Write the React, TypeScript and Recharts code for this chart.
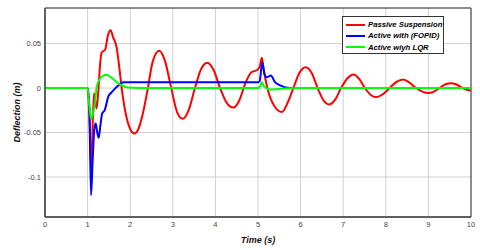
import {
  LineChart,
  Line,
  XAxis,
  YAxis,
  CartesianGrid,
  Legend,
  ReferenceArea,
} from 'recharts';

// time ticks and deflection ticks
const timeTicks = [0, 1, 2, 3, 4, 5, 6, 7, 8, 9, 10];
const deflTicks = [-0.1, -0.05, 0, 0.05];

// Passive suspension
const passiveT = [
  0, 1.0, 1.04, 1.09, 1.12, 1.15, 1.21, 1.25, 1.29, 1.33, 1.41, 1.48, 1.54, 1.6, 1.68, 1.74, 1.8,
  1.9, 2.0, 2.1, 2.2, 2.3, 2.4, 2.53, 2.68, 2.82, 2.95, 3.1, 3.23, 3.37, 3.52, 3.66, 3.81, 3.96,
  4.11, 4.27, 4.42, 4.56, 4.7, 4.85, 4.97, 5.04, 5.09, 5.13, 5.22, 5.38, 5.56, 5.7, 5.83, 5.97,
  6.12, 6.26, 6.4, 6.54, 6.67, 6.81, 6.95, 7.1, 7.24, 7.38, 7.51, 7.64, 7.77, 7.93, 8.09, 8.25,
  8.41, 8.56, 8.71, 8.86, 9.0, 9.13, 9.26, 9.39, 9.52, 9.66, 9.8, 10.0,
];
const passiveY = [
  0, 0, -0.03, -0.093, -0.04, -0.006, -0.023, -0.005, 0.025, 0.04, 0.043, 0.06, 0.065, 0.057,
  0.046, 0.025, 0.0, -0.03, -0.046, -0.051, -0.045, -0.028, -0.004, 0.03, 0.042, 0.03, 0.003,
  -0.027, -0.0345, -0.025, 0.0, 0.021, 0.0284, 0.02, 0.0, -0.017, -0.022, -0.014, 0.005, 0.018,
  0.02, 0.024, 0.034, 0.022, 0.0, -0.02, -0.027, -0.016, 0.0, 0.017, 0.0235, 0.017, 0.0, -0.014,
  -0.0184, -0.013, 0.0, 0.011, 0.0153, 0.01, 0.0, -0.0075, -0.0102, -0.007, 0.0, 0.007, 0.0097,
  0.006, 0.0, -0.004, -0.0057, -0.004, 0.0, 0.004, 0.0055, 0.004, 0.0, -0.003,
];

// Active with FOPID
const fopidT = [
  0, 1.0, 1.04, 1.08, 1.12, 1.16, 1.19, 1.22, 1.26, 1.3, 1.34, 1.4, 1.49, 1.56, 1.7, 1.85, 5.0,
  5.04, 5.1, 5.15, 5.2, 5.3, 5.4, 5.52, 5.75, 10.0,
];
const fopidY = [
  0, 0, -0.02, -0.1205, -0.08, -0.045, -0.04, -0.048, -0.056, -0.042, -0.029, -0.025, -0.009,
  -0.005, 0.002, 0.0065, 0.0065, 0.008, 0.029, 0.016, 0.012, 0.014, 0.0066, 0.003, 0.0, 0.0,
];

// Active with LQR
const lqrT = [
  0, 1.0, 1.04, 1.08, 1.13, 1.18, 1.21, 1.27, 1.35, 1.45, 1.55, 1.65, 1.8, 1.95, 2.2, 5.0, 5.05,
  5.09, 5.14, 5.28, 5.5, 5.9, 10.0,
];
const lqrY = [
  0, 0, -0.02, -0.0345, -0.028, -0.014, 0.0, 0.009, 0.0135, 0.0149, 0.012, 0.008, 0.003, 0.0005,
  0, 0, 0.002, 0.0066, 0.002, -0.0016, -0.001, 0, 0,
];

const toPoints = (ts: number[], ys: number[]) => ts.map((t, i) => ({ t, y: ys[i] }));

const series = [
  { name: 'Passive Suspension', color: '#ff0000', data: toPoints(passiveT, passiveY) },
  { name: 'Active with (FOPID)', color: '#0000ff', data: toPoints(fopidT, fopidY) },
  { name: 'Active wiyh LQR', color: '#00ff00', data: toPoints(lqrT, lqrY) },
];

const font = '"Liberation Sans", Arial, sans-serif';

const LegendBox = () => (
  <div
    style={{
      width: 100,
      height: 34,
      border: '1px solid #333',
      background: '#fff',
      fontFamily: font,
      fontSize: 7.7,
      fontWeight: 'bold',
      fontStyle: 'italic',
      color: '#000',
      boxSizing: 'content-box',
      paddingTop: 2,
    }}
  >
    {series.map((s) => (
      <div key={s.name} style={{ display: 'flex', alignItems: 'center', height: 11.3 }}>
        <div style={{ width: 19, height: 2, background: s.color, marginLeft: 3, marginRight: 3 }} />
        <span style={{ whiteSpace: 'nowrap' }}>{s.name}</span>
      </div>
    ))}
  </div>
);

export default function App() {
  return (
    <div style={{ position: 'absolute', left: 0, top: 0, background: '#fff' }}>
      <LineChart width={480} height={250} margin={{ top: 8, right: 9, bottom: 0, left: 0 }}>
        <CartesianGrid stroke="#d0d0d0" strokeWidth={1} ticks={timeTicks} />
        <XAxis
          type="number"
          dataKey="t"
          domain={[0, 10]}
          ticks={timeTicks}
          allowDataOverflow
          height={33}
          tickLine={false}
          tickSize={3}
          tickMargin={2}
          axisLine={{ stroke: '#333' }}
          tick={{ fontSize: 7.5, fill: '#444', fontFamily: font }}
          label={{
            value: 'Time (s)',
            position: 'center',
            dy: 6.5,
            style: { fontSize: 9, fontWeight: 'bold', fontStyle: 'italic', fill: '#111', fontFamily: font },
          }}
        />
        <YAxis
          type="number"
          domain={[-0.145, 0.09]}
          ticks={deflTicks}
          allowDataOverflow
          width={45}
          tickLine={false}
          tickSize={2}
          tickMargin={2}
          axisLine={{ stroke: '#333' }}
          tickFormatter={(v: number) => String(v)}
          tick={{ fontSize: 7.5, fill: '#444', fontFamily: font }}
          label={{
            value: 'Deflection (m)',
            angle: -90,
            position: 'center',
            dx: -6,
            style: { fontSize: 9, fontWeight: 'bold', fontStyle: 'italic', fill: '#111', fontFamily: font },
          }}
        />
        <ReferenceArea x1={0} x2={10} y1={-0.145} y2={0.09} fill="none" stroke="#333" strokeWidth={1} />
        {series.map((s) => (
          <Line
            key={s.name}
            data={s.data}
            dataKey="y"
            name={s.name}
            type="monotone"
            stroke={s.color}
            strokeWidth={2}
            dot={false}
            activeDot={false}
            isAnimationActive={false}
          />
        ))}
        <Legend
          layout="vertical"
          align="center"
          verticalAlign="middle"
          content={<LegendBox />}
          wrapperStyle={{ left: 342, top: 16, width: 102, height: 36 }}
        />
      </LineChart>
    </div>
  );
}
